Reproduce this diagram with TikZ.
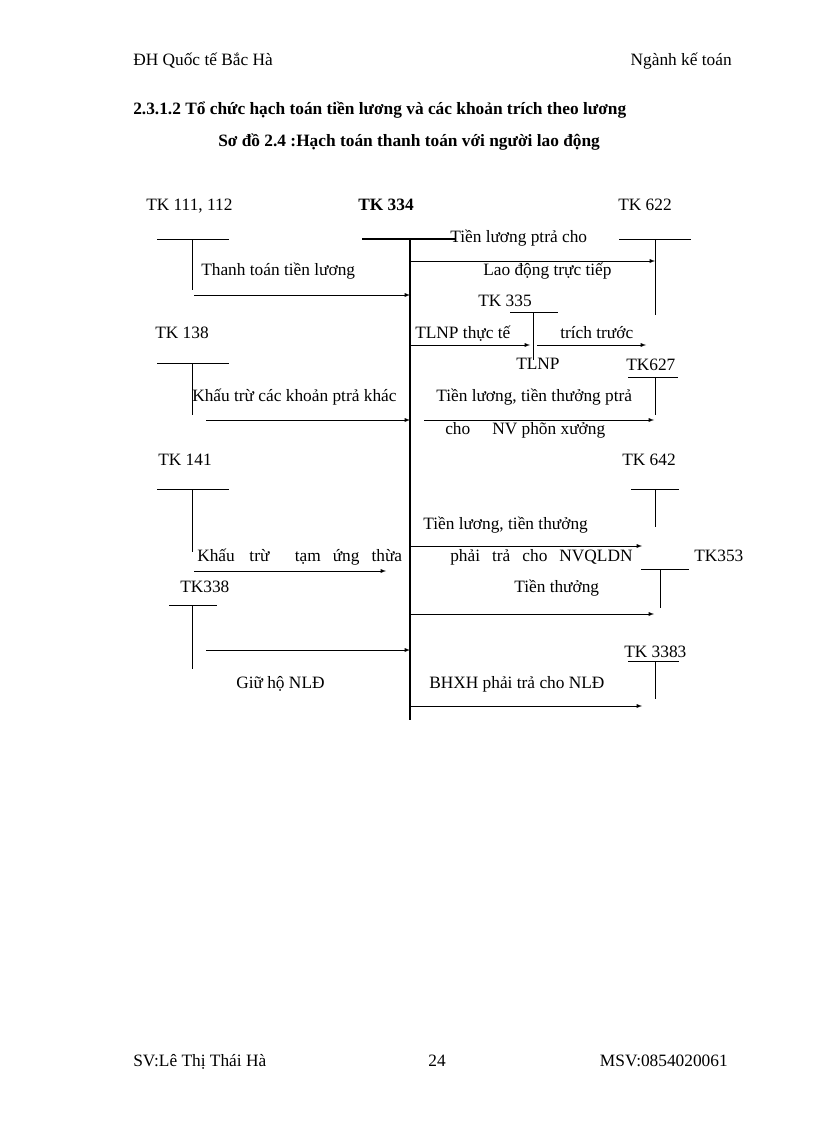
\documentclass[tikz,border=0pt]{standalone}
\usepackage{fontspec}
\setmainfont{Liberation Serif}
\usetikzlibrary{arrows, positioning}

\tikzset{
	lbl/.style={inner sep=0pt, text height=9pt, text depth=3pt, font=\fontsize{13}{15}\selectfont},
	acc/.style={thin},
	flow/.style={thin, -latex},
}

\begin{document}
\begin{tikzpicture}[x=0.75pt, y=-0.75pt]
	\useasboundingbox (0,0) rectangle (816,1123);

	% header and footer
	\node[lbl, anchor=west] (hl) at (133,62) {ĐH Quốc tế Bắc Hà};
	\node[lbl, anchor=east] (hr) at (732,62) {Ngành kế toán};
	\node[lbl, anchor=west, font=\fontsize{13}{15}\selectfont\bfseries] (t1) at (133,111) {2.3.1.2 Tổ chức hạch toán tiền lương và các khoản trích theo lương};
	\node[lbl, anchor=west, font=\fontsize{13}{15}\selectfont\bfseries] (t2) at (218,143) {Sơ đồ 2.4 :Hạch toán thanh toán với người lao động};
	\node[lbl, anchor=west] (fl) at (133,1062) {SV:Lê Thị Thái Hà};
	\node[lbl] (fc) at (437,1062) {24};
	\node[lbl, anchor=east] (fr) at (728,1062) {MSV:0854020061};

	% account labels
	\node[lbl, anchor=west] (tk111) at (146,207) {TK 111, 112};
	\node[lbl, font=\fontsize{13}{15}\selectfont\bfseries] (tk334) at (386,207) {TK 334};
	\node[lbl, anchor=west] (tk622) at (618,207) {TK 622};
	\node[lbl, anchor=west] (tk335) at (478,302) {TK 335};
	\node[lbl, anchor=west] (tk138) at (155,334) {TK 138};
	\node[lbl, anchor=west] (tk627) at (626,366) {TK627};
	\node[lbl, anchor=west] (tk141) at (158,461) {TK 141};
	\node[lbl, anchor=west] (tk642) at (622,461) {TK 642};
	\node[lbl, anchor=west] (tk353) at (694,557) {TK353};
	\node[lbl, anchor=west] (tk338) at (180,588) {TK338};
	\node[lbl, anchor=west] (tk3383) at (624,653) {TK 3383};

	% T accounts
	\draw[acc] (157,239) -- (229,239);
	\draw[acc] (192,239) -- (192,290);
	\draw[acc, line width=1.2pt] (362,239) -- (456,239);
	\draw[acc, line width=1pt] (410,239) -- (410,720);
	\draw[acc] (619,239) -- (691,239);
	\draw[acc] (655,239) -- (655,315);
	\draw[acc] (510,312) -- (558,312);
	\draw[acc] (533,312) -- (533,360);
	\draw[acc] (157,363) -- (229,363);
	\draw[acc] (192,363) -- (192,415);
	\draw[acc] (628,377) -- (678,377);
	\draw[acc] (655,377) -- (655,415);
	\draw[acc] (157,489) -- (229,489);
	\draw[acc] (192,489) -- (192,552);
	\draw[acc] (631,489) -- (679,489);
	\draw[acc] (655,489) -- (655,527);
	\draw[acc] (641,569) -- (689,569);
	\draw[acc] (660,569) -- (660,608);
	\draw[acc] (169,605) -- (217,605);
	\draw[acc] (192,605) -- (192,669);
	\draw[acc] (628,661) -- (679,661);
	\draw[acc] (655,661) -- (655,699);

	% flows
	\draw[flow] (410,261) -- (655,261);
	\draw[flow] (194,295) -- (410,295);
	\draw[flow] (410,345) -- (530,345);
	\draw[flow] (537,345) -- (646,345);
	\draw[flow] (206,420) -- (410,420);
	\draw[flow] (424,420) -- (654,420);
	\draw[flow] (410,546) -- (642,546);
	\draw[flow] (194,571) -- (386,571);
	\draw[flow] (410,614) -- (654,614);
	\draw[flow] (206,650) -- (410,650);
	\draw[flow] (410,706) -- (642,706);

	% flow texts
	\node[lbl, anchor=west] (f1a) at (450,239) {Tiền lương ptrả cho};
	\node[lbl, anchor=west] (f1b) at (483,271) {Lao động trực tiếp};
	\node[lbl, anchor=west] (f2) at (201,271) {Thanh toán tiền lương};
	\node[lbl, anchor=west] (f3) at (415,334) {TLNP thực tế};
	\node[lbl, anchor=west] (f4) at (560,334) {trích trước};
	\node[lbl, anchor=west] (f5) at (516,365) {TLNP};
	\node[lbl, anchor=west] (f6) at (192,397) {Khấu trừ các khoản ptrả khác};
	\node[lbl, anchor=west] (f7a) at (436,397) {Tiền lương, tiền thưởng ptrả};
	\node[lbl, anchor=west] (f7b) at (445,430) {cho};
	\node[lbl, anchor=west] (f7c) at (492,430) {NV phõn xưởng};
	\node[lbl, anchor=west] (f8a) at (423,525) {Tiền lương, tiền thưởng};
	\node[lbl, anchor=west] (f8b) at (450,557) {phải\hspace{9pt}trả\hspace{9pt}cho\hspace{9pt}NVQLDN};
	\node[lbl, anchor=west] (f9) at (197,557) {Khấu\hspace{11pt}trừ\hspace{19pt}tạm\hspace{9pt}ứng\hspace{9pt}thừa};
	\node[lbl, anchor=west] (f10) at (514,588) {Tiền thưởng};
	\node[lbl, anchor=west] (f11) at (236,684) {Giữ hộ NLĐ};
	\node[lbl, anchor=west] (f12) at (429,684) {BHXH phải trả cho NLĐ};
\end{tikzpicture}
\end{document}
